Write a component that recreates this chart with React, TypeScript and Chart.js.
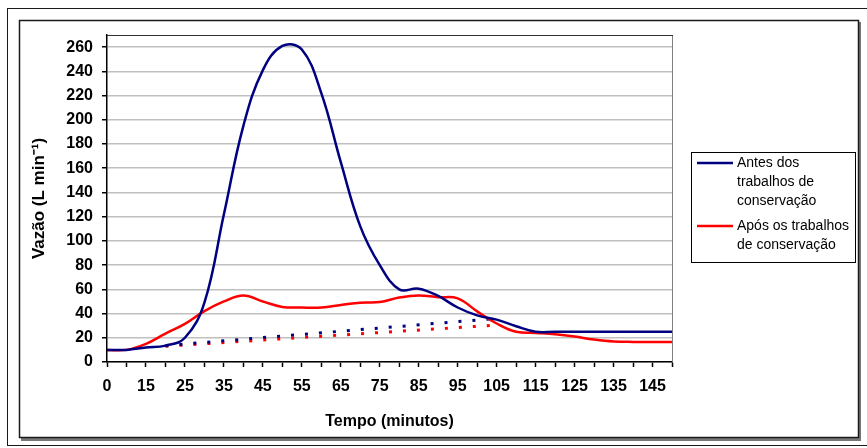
import React, { useEffect, useRef } from "react";
import { Chart, registerables } from "chart.js";

Chart.register(...registerables);

// Time categories (minutes); every second one is labelled on the axis
const minutes = [
  "0", "10", "15", "20", "25", "30", "35", "40", "45", "50",
  "55", "60", "65", "70", "75", "80", "85", "90", "95", "100",
  "105", "110", "115", "120", "125", "130", "135", "140", "145", "150",
];

// Discharge before the conservation works (L/min)
const antes = [
  10, 10, 12, 13.5, 20, 49, 122, 195, 241, 261,
  258, 222, 165, 112, 80, 60, 60.5, 54.5, 45, 38.5,
  35, 29.5, 25, 25, 25, 25, 25, 25, 25, 25,
];

// Discharge after the conservation works (L/min)
const apos = [
  10, 10, 15, 23.5, 31.5, 42, 50, 55, 50, 45.5,
  45, 45, 47, 49, 49.5, 53.3, 55, 53.5, 52.5, 41.8,
  31.8, 25, 24, 23, 21, 18.6, 17, 16.6, 16.6, 16.6,
];

// Base-flow separation lines (start and end points only)
const antesBase = [
  null, null, null, 13.5, null, null, null, null, null, null,
  null, null, null, null, null, null, null, null, null, null,
  36, null, null, null, null, null, null, null, null, null,
];
const aposBase = [
  null, null, null, 13, null, null, null, null, null, null,
  null, null, null, null, null, null, null, null, null, null,
  30.5, null, null, null, null, null, null, null, null, null,
];

// Y axis tick values
const yTicks = [0, 20, 40, 60, 80, 100, 120, 140, 160, 180, 200, 220, 240, 260];

const BLUE = "#000080";
const RED = "#ff0000";
const FONT = "'Liberation Sans', Arial, sans-serif";

const legendEntries = [
  { color: BLUE, lines: ["Antes dos", "trabalhos de", "conservação"] },
  { color: RED, lines: ["Após os trabalhos", "de conservação"] },
];

const framePlugin = {
  id: "frames",
  beforeDraw(chart: any) {
    const { ctx, width, height } = chart;
    ctx.save();
    ctx.fillStyle = "#ffffff";
    ctx.fillRect(0, 0, width, height);
    ctx.restore();
  },
  afterDraw(chart: any) {
    const { ctx, chartArea } = chart;
    ctx.save();
    // outer border
    ctx.strokeStyle = "#1a1a1a";
    ctx.lineWidth = 1;
    ctx.strokeRect(7.5, 8.5, 870, 437);
    // chart frame with shadow
    ctx.fillStyle = "#777777";
    ctx.fillRect(21, 438, 840, 3);
    ctx.fillRect(859, 22, 2, 418);
    ctx.strokeStyle = "#1a1a1a";
    ctx.lineWidth = 1.5;
    ctx.strokeRect(19.5, 20.5, 839, 417);
    // plot area border (top and right)
    ctx.strokeStyle = "#808080";
    ctx.lineWidth = 1;
    ctx.beginPath();
    ctx.moveTo(chartArea.right + 0.5, chartArea.top);
    ctx.lineTo(chartArea.right + 0.5, chartArea.bottom);
    ctx.stroke();
    ctx.strokeStyle = "#333333";
    ctx.beginPath();
    ctx.moveTo(chartArea.left, chartArea.top + 0.5);
    ctx.lineTo(chartArea.right + 1, chartArea.top + 0.5);
    ctx.stroke();

    // legend box
    ctx.strokeStyle = "#000000";
    ctx.lineWidth = 1;
    ctx.strokeRect(691.5, 152.5, 164, 110);
    ctx.font = `14px ${FONT}`;
    ctx.fillStyle = "#000000";
    ctx.textBaseline = "middle";
    ctx.textAlign = "left";
    let y = 163;
    legendEntries.forEach((entry, i) => {
      if (i > 0) y += 6;
      ctx.strokeStyle = entry.color;
      ctx.lineWidth = 2.5;
      ctx.beginPath();
      ctx.moveTo(697, y);
      ctx.lineTo(733, y);
      ctx.stroke();
      entry.lines.forEach((t) => {
        ctx.fillText(t, 737, y);
        y += 19;
      });
    });
    ctx.restore();
  },
};

export default function App() {
  const canvasRef = useRef<HTMLCanvasElement | null>(null);

  useEffect(() => {
    if (!canvasRef.current) return;
    const chart = new Chart(canvasRef.current, {
      type: "line",
      data: {
        labels: minutes,
        datasets: [
          {
            label: "Antes dos trabalhos de conservação",
            data: antes,
            borderColor: BLUE,
            borderWidth: 2.5,
            pointRadius: 0,
            tension: 0.4,
            fill: false,
          },
          {
            label: "Após os trabalhos de conservação",
            data: apos,
            borderColor: RED,
            borderWidth: 2.5,
            pointRadius: 0,
            tension: 0.4,
            fill: false,
          },
          {
            label: "base antes",
            data: antesBase,
            borderColor: BLUE,
            borderWidth: 3,
            borderDash: [3, 11],
            pointRadius: 0,
            spanGaps: true,
            tension: 0,
            fill: false,
          },
          {
            label: "base após",
            data: aposBase,
            borderColor: RED,
            borderWidth: 3,
            borderDash: [3, 11],
            pointRadius: 0,
            spanGaps: true,
            tension: 0,
            fill: false,
          },
        ],
      },
      options: {
        responsive: false,
        animation: false,
        layout: { padding: { top: 35, right: 195, left: 0, bottom: 0 } },
        plugins: {
          legend: { display: false },
          tooltip: { enabled: false },
        },
        scales: {
          x: {
            type: "category",
            offset: false,
            afterFit: (s: any) => {
              s.height = 86;
            },
            border: { display: true, color: "#000000", width: 1.5 },
            grid: {
              drawOnChartArea: false,
              drawTicks: true,
              tickLength: 5,
              tickColor: "#000000",
              tickWidth: 1.5,
            },
            ticks: {
              autoSkip: false,
              maxRotation: 0,
              padding: 10,
              color: "#000000",
              font: { family: FONT, size: 16, weight: "bold" },
              callback: (_v: any, i: number) =>
                i % 2 === 0 && i < minutes.length - 1 ? minutes[i] : "",
            },
            title: {
              display: true,
              text: "Tempo (minutos)",
              color: "#000000",
              font: { family: FONT, size: 16, weight: "bold" },
              padding: { top: 4, bottom: 17 },
            },
          },
          y: {
            min: 0,
            max: 270,
            afterFit: (s: any) => {
              s.width = 107;
            },
            afterBuildTicks: (s: any) => {
              s.ticks = yTicks.map((v) => ({ value: v }));
            },
            border: { display: true, color: "#000000", width: 1.5 },
            grid: {
              color: "#c0c0c0",
              lineWidth: 1.5,
              tickLength: 5,
              tickColor: "#000000",
              tickWidth: 1.5,
            },
            ticks: {
              stepSize: 20,
              padding: 9,
              color: "#000000",
              font: { family: FONT, size: 16, weight: "bold" },
            },
            title: {
              display: true,
              text: "Vazão (L min⁻¹)",
              color: "#000000",
              font: { family: FONT, size: 17, weight: "bold" },
              padding: { top: 29, bottom: 0 },
            },
          },
        },
      },
      plugins: [framePlugin],
    });
    return () => chart.destroy();
  }, []);

  return (
    <div style={{ position: "absolute", left: 0, top: 0, width: 867, height: 448 }}>
      <canvas ref={canvasRef} width={867} height={448} style={{ display: "block" }} />
    </div>
  );
}
